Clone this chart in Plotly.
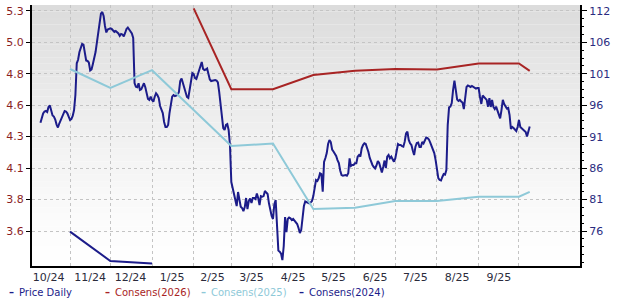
import pandas as pd
import plotly.graph_objects as go

# ---------------- data ----------------
price_start = "2024-10-10"
price_daily = [
    # Oct 10 - Oct 31 2024
    4.436, 4.480, 4.507, 4.523, 4.527, 4.519, 4.558, 4.569, 4.527, 4.492, 4.484,
    4.461, 4.422, 4.399, 4.430, 4.453, 4.473, 4.496, 4.527, 4.523, 4.509, 4.483,
    # Nov 2024
    4.457, 4.465, 4.488, 4.534, 4.650, 4.895, 4.922, 4.982, 5.025, 5.044,
    5.039, 4.967, 4.917, 4.913, 4.901, 4.839, 4.847, 4.890, 4.936, 4.982,
    5.056, 5.144, 5.229, 5.278, 5.291, 5.260, 5.183, 5.133, 5.156, 5.162,
    # Dec 2024
    5.164, 5.160, 5.148, 5.137, 5.144, 5.137, 5.125, 5.107, 5.121, 5.117,
    5.103, 5.129, 5.160, 5.171, 5.156, 5.137, 5.125, 5.090, 4.743, 4.714,
    4.710, 4.741, 4.689, 4.694, 4.720, 4.741, 4.710, 4.650, 4.620, 4.612, 4.637,
    # Jan 2025
    4.612, 4.598, 4.637, 4.663, 4.650, 4.627, 4.565, 4.534, 4.511, 4.442,
    4.403, 4.403, 4.419, 4.511, 4.586, 4.637, 4.650, 4.642, 4.646, 4.650,
    4.673, 4.758, 4.778, 4.739, 4.697, 4.658, 4.635, 4.627, 4.681, 4.751, 4.820,
    # Feb 2025
    4.812, 4.781, 4.774, 4.808, 4.851, 4.890, 4.905, 4.851, 4.843, 4.847,
    4.855, 4.812, 4.770, 4.758, 4.761, 4.762, 4.766, 4.762, 4.747, 4.673,
    4.565, 4.473, 4.395, 4.380, 4.419, 4.426, 4.380, 4.264,
    # Mar 2025
    3.978, 3.932, 3.893, 3.847, 3.793, 3.901, 3.824, 3.788, 3.778, 3.754,
    3.785, 3.855, 3.770, 3.832, 3.851, 3.816, 3.855, 3.855, 3.847, 3.890,
    3.855, 3.801, 3.870, 3.866, 3.870, 3.909, 3.897, 3.886, 3.814, 3.754, 3.716,
    # Apr 2025
    3.693, 3.808, 3.839, 3.608, 3.449, 3.440, 3.426, 3.376, 3.484, 3.708,
    3.592, 3.693, 3.704, 3.698, 3.685, 3.693, 3.677, 3.670, 3.654, 3.623,
    3.585, 3.608, 3.710, 3.793, 3.828, 3.824, 3.816, 3.814, 3.820, 3.832,
    # May 2025
    3.870, 3.940, 3.994, 3.986, 4.007, 4.046, 4.040, 3.903, 4.133, 4.164,
    4.202, 4.272, 4.303, 4.287, 4.229, 4.214, 4.200, 4.179, 4.148, 4.125,
    4.067, 4.032, 4.027, 4.031, 4.032, 4.027, 4.046, 4.161, 4.102, 4.110, 4.110,
    # Jun 2025
    4.123, 4.123, 4.174, 4.187, 4.174, 4.239, 4.264, 4.277, 4.272, 4.245,
    4.210, 4.164, 4.133, 4.110, 4.094, 4.083, 4.106, 4.141, 4.125, 4.075,
    4.052, 4.094, 4.144, 4.087, 4.174, 4.187, 4.161, 4.174, 4.148, 4.135,
    # Jul 2025
    4.161, 4.225, 4.272, 4.264, 4.264, 4.256, 4.251, 4.290, 4.354, 4.367,
    4.303, 4.277, 4.264, 4.222, 4.187, 4.251, 4.280, 4.283, 4.249, 4.249,
    4.287, 4.276, 4.295, 4.322, 4.318, 4.307, 4.283, 4.253, 4.233, 4.202, 4.148,
    # Aug 2025
    4.071, 4.009, 3.994, 3.990, 4.017, 4.040, 4.036, 4.071, 4.418, 4.554,
    4.560, 4.588, 4.689, 4.761, 4.689, 4.615, 4.604, 4.612, 4.600, 4.592,
    4.542, 4.627, 4.712, 4.724, 4.716, 4.712, 4.720, 4.714, 4.708, 4.700, 4.704,
    # Sep 2025
    4.704, 4.637, 4.581, 4.646, 4.635, 4.623, 4.612, 4.560, 4.625, 4.558,
    4.612, 4.558, 4.542, 4.560, 4.534, 4.496, 4.470, 4.534, 4.612, 4.581,
    4.565, 4.546, 4.550, 4.496, 4.388, 4.403, 4.395, 4.384, 4.372, 4.403,
    # Oct 2025
    4.457, 4.403, 4.393, 4.388, 4.376, 4.364, 4.330, 4.372, 4.407,
]
price_dates = pd.date_range(price_start, periods=len(price_daily), freq="D")

cons_2026_dates = ["2025-02-01", "2025-03-01", "2025-04-01", "2025-05-01", "2025-06-01",
                   "2025-07-01", "2025-08-01", "2025-09-01", "2025-10-01", "2025-10-09"]
cons_2026 = [112.4, 99.2, 99.2, 101.5, 102.2, 102.5, 102.4, 103.4, 103.4, 102.2]

cons_2025_dates = ["2024-11-01", "2024-12-01", "2025-01-01", "2025-02-01", "2025-03-01",
                   "2025-04-01", "2025-05-01", "2025-06-01", "2025-07-01", "2025-08-01",
                   "2025-09-01", "2025-10-01", "2025-10-09"]
cons_2025 = [102.5, 99.4, 102.3, 95.8, 89.9, 90.3, 79.6, 79.8, 80.9, 80.9, 81.6, 81.6, 82.4]

cons_2024_dates = ["2024-11-01", "2024-12-01", "2025-01-01"]
cons_2024 = [75.9, 71.1, 70.7]

# axis ticks
left_tickvals = [3.6, 3.843, 4.086, 4.329, 4.571, 4.814, 5.057, 5.3]
left_ticktext = ["3.6", "3.8", "4.1", "4.3", "4.6", "4.8", "5.0", "5.3"]
right_tickvals = [76, 81.14, 86.29, 91.43, 96.57, 101.71, 106.86, 112]
right_ticktext = ["76", "81", "86", "91", "96", "101", "106", "112"]
month_starts = ["2024-11-01", "2024-12-01", "2025-01-01", "2025-02-01", "2025-03-01",
                "2025-04-01", "2025-05-01", "2025-06-01", "2025-07-01", "2025-08-01",
                "2025-09-01", "2025-10-01"]
month_mids = ["2024-10-16", "2024-11-16", "2024-12-16", "2025-01-16", "2025-02-15",
              "2025-03-16", "2025-04-16", "2025-05-16", "2025-06-16", "2025-07-16",
              "2025-08-16", "2025-09-16"]
month_labels = ["10/24", "11/24", "12/24", "1/25", "2/25", "3/25", "4/25", "5/25",
                "6/25", "7/25", "8/25", "9/25"]

series_names = ["Price Daily", "Consens(2026)", "Consens(2025)", "Consens(2024)"]
series_colors = ["#1c1c8a", "#a82424", "#8ec9d8", "#1c1c8a"]

# ---------------- figure ----------------
fig = go.Figure()

fig.add_trace(go.Scatter(x=list(cons_2024_dates), y=cons_2024, mode="lines", name=series_names[3],
                         line=dict(color=series_colors[3], width=2), yaxis="y2"))
fig.add_trace(go.Scatter(x=list(cons_2025_dates), y=cons_2025, mode="lines", name=series_names[2],
                         line=dict(color=series_colors[2], width=2), yaxis="y2"))
fig.add_trace(go.Scatter(x=list(cons_2026_dates), y=cons_2026, mode="lines", name=series_names[1],
                         line=dict(color=series_colors[1], width=2), yaxis="y2"))
fig.add_trace(go.Scatter(x=price_dates, y=price_daily, mode="lines", name=series_names[0],
                         line=dict(color=series_colors[0], width=2), yaxis="y"))
# empty trace so the minor-tick axis is rendered
fig.add_trace(go.Scatter(x=[], y=[], yaxis="y3", showlegend=False, hoverinfo="skip"))

# background gradient (light grey at top fading to white)
shapes = []
N = 40
for i in range(N):
    t = (i + 0.5) / N
    c = int(round(255 - 36 * t ** 1.3))
    shapes.append(dict(type="rect", xref="paper", yref="paper", x0=0, x1=1,
                       y0=i / N, y1=(i + 1) / N, fillcolor=f"rgb({c},{c},{c})",
                       line=dict(width=0), layer="below"))

# legend drawn as text
legend_x = [-0.0456, 0.1296, 0.3047, 0.4836]
annotations = []
for name, col, lx in zip(series_names, series_colors, legend_x):
    annotations.append(dict(xref="paper", yref="paper", x=lx, y=-0.1023,
                            xanchor="left", yanchor="middle", showarrow=False,
                            text=f"<b>\u2013</b>\u2002{name}",
                            font=dict(family="DejaVu Sans", size=10, color=col)))

grid_col = "#c4c4c4"
right_range = [70.28, 112.96]
fig.update_layout(
    width=620, height=308,
    margin=dict(l=32, r=40, t=5, b=42),
    paper_bgcolor="white", plot_bgcolor="white",
    showlegend=False,
    font=dict(family="DejaVu Sans", size=11),
    shapes=shapes,
    annotations=annotations,
    xaxis=dict(
        type="date",
        range=["2024-10-03 17:00", "2025-11-15 10:00"],
        tickmode="array", tickvals=month_mids, ticktext=month_labels,
        showgrid=False, ticks="", zeroline=False,
        showline=True, linecolor="black", linewidth=2,
        tickfont=dict(size=11, color="#2b2b3b"),
        minor=dict(tickmode="array", tickvals=month_starts, showgrid=True,
                   gridcolor=grid_col, griddash="dot", gridwidth=1, ticks=""),
    ),
    yaxis=dict(
        range=[3.330, 5.345],
        tickmode="array", tickvals=left_tickvals, ticktext=left_ticktext,
        showgrid=True, gridcolor=grid_col, griddash="dot", gridwidth=1,
        zeroline=False, showline=True, linecolor="black", linewidth=2,
        ticks="outside", ticklen=4, tickcolor="black",
        tickfont=dict(size=11, color="#8b1f1f"),
    ),
    yaxis2=dict(
        overlaying="y", side="right",
        range=right_range,
        tickmode="array", tickvals=right_tickvals, ticktext=right_ticktext,
        showgrid=False, zeroline=False,
        showline=True, linecolor="black", linewidth=2,
        ticks="outside", ticklen=5, tickcolor="black",
        tickfont=dict(size=11, color="#2b2b80"),
    ),
    yaxis3=dict(
        overlaying="y", side="right", anchor="x",
        range=right_range,
        tickmode="linear", tick0=76, dtick=1.2857,
        ticks="outside", ticklen=3, tickcolor="black",
        showticklabels=False, showgrid=False, zeroline=False, showline=False,
    ),
)

fig.write_html("out.html")
